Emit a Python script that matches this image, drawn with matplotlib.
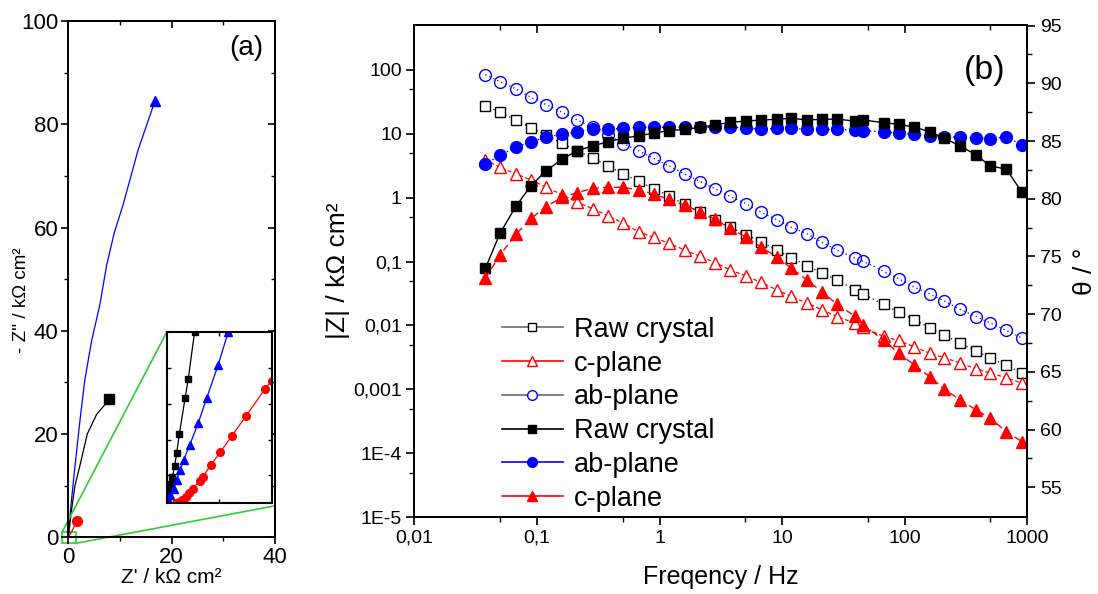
import matplotlib
matplotlib.use("Agg")
import matplotlib.pyplot as plt
from matplotlib.lines import Line2D
from matplotlib.patches import Rectangle
from matplotlib.ticker import FixedLocator, NullFormatter

plt.rcParams['font.family'] = ['Liberation Sans', 'DejaVu Sans']

# ---------------- Panel (a): Nyquist ----------------
nyq_raw_x = [0, 0.64, 1.28, 2.25, 3.67, 5.47, 7.93]
nyq_raw_y = [0, 5.4, 10.0, 13.9, 20.0, 23.8, 26.7]
nyq_ab_x = [0, 0.4, 1.1, 2.3, 3.2, 4.5, 6.1, 7.4, 8.9, 10.6, 13.5, 16.8]
nyq_ab_y = [0, 5.0, 12.0, 23.0, 30.5, 38.0, 45.0, 52.6, 59.0, 64.4, 75.0, 84.6]
nyq_c_x = [0, 0.6, 1.2, 1.74]
nyq_c_y = [0, 1.0, 2.2, 3.2]

# inset (zoom of the origin region)
ins_raw_x = [0, 0.013, 0.03, 0.05, 0.076, 0.11, 0.15, 0.19, 0.24, 0.35, 0.41, 0.53]
ins_raw_y = [0, 0.10, 0.22, 0.36, 0.54, 0.73, 1.03, 1.39, 1.93, 2.94, 3.48, 4.8]
ins_ab_x = [0, 0.03, 0.06, 0.13, 0.19, 0.25, 0.32, 0.44, 0.60, 0.76, 0.98, 1.17]
ins_ab_y = [0, 0.08, 0.22, 0.40, 0.64, 0.92, 1.20, 1.63, 2.24, 2.94, 3.88, 4.8]
ins_c_x = [0.18, 0.24, 0.30, 0.37, 0.43, 0.50, 0.63, 0.69, 0.84, 1.02, 1.24, 1.51, 1.87, 2.0]
ins_c_y = [0.0, 0.03, 0.09, 0.17, 0.28, 0.39, 0.62, 0.73, 1.06, 1.42, 1.88, 2.44, 3.20, 3.44]

# ---------------- Panel (b): Bode ----------------
freq = [0.038, 0.050, 0.0676, 0.0896, 0.119, 0.160, 0.212, 0.285, 0.380, 0.504,
        0.676, 0.896, 1.19, 1.60, 2.15, 2.85, 3.78, 5.10, 6.76, 9.05,
        11.9, 16.0, 21.1, 28.0, 39.0, 45.7, 67.3, 89.2, 120, 160,
        211, 284, 383, 499, 674, 906]
z_raw = [27.4, 21.5, 16.4, 12.3, 9.5, 7.05, 5.4, 4.17, 3.16, 2.34,
         1.80, 1.37, 1.07, 0.78, 0.59, 0.44, 0.344, 0.264, 0.200, 0.152,
         0.114, 0.0866, 0.0665, 0.0518, 0.0361, 0.0312, 0.0213, 0.0161, 0.0123, 0.0092,
         0.00698, 0.00529, 0.00397, 0.00313, 0.00237, 0.0018]
z_c = [3.9, 2.98, 2.34, 1.89, 1.45, 1.11, 0.85, 0.67, 0.52, 0.40,
       0.29, 0.24, 0.193, 0.152, 0.12, 0.096, 0.074, 0.059, 0.047, 0.036,
       0.0284, 0.0223, 0.0176, 0.0138, 0.0109, 0.0094, 0.00673, 0.00583, 0.00459, 0.00369,
       0.00313, 0.00258, 0.0021, 0.0018, 0.00152, 0.00125]
z_ab = [83.6, 65, 49.9, 36.9, 28.4, 21.5, 16.4, 12.5, 9.5, 7.0,
        5.4, 4.1, 3.16, 2.34, 1.78, 1.37, 1.04, 0.80, 0.59, 0.45,
        0.344, 0.271, 0.200, 0.152, 0.114, 0.101, 0.0705, 0.054, 0.0397, 0.0312,
        0.024, 0.0178, 0.0138, 0.0109, 0.00835, 0.00634]
th_raw = [73.97, 77.0, 79.37, 81.13, 82.43, 83.41, 84.16, 84.57, 84.94, 85.23,
          85.46, 85.67, 85.9, 86.0, 86.19, 86.39, 86.62, 86.73, 86.82, 86.88,
          86.97, 86.82, 86.88, 86.9, 86.73, 86.82, 86.59, 86.45, 86.19, 85.81,
          85.23, 84.57, 83.79, 82.83, 82.57, 80.55]
th_ab = [82.98, 83.79, 84.45, 84.94, 85.32, 85.6, 85.81, 86.01, 86.0, 86.1,
         86.19, 86.19, 86.19, 86.19, 86.19, 86.19, 86.19, 86.15, 86.0, 86.1,
         86.1, 86.0, 86.0, 86.0, 85.95, 85.9, 85.8, 85.67, 85.58, 85.46,
         85.37, 85.32, 85.29, 85.17, 85.37, 84.65]
th_c = [73.1, 75.12, 76.92, 78.3, 79.31, 80.12, 80.52, 80.9, 80.99, 80.99,
        80.75, 80.41, 79.95, 79.45, 78.87, 78.21, 77.43, 76.65, 75.8, 74.95,
        73.97, 72.95, 71.94, 70.87, 69.84, 69.06, 67.76, 66.6, 65.59, 64.58,
        63.49, 62.56, 61.7, 60.98, 59.82, 58.95]

xtick_vals = [0.01, 0.1, 1, 10, 100, 1000]
xtick_labels = ['0,01', '0,1', '1', '10', '100', '1000']
ytick_vals = [1e-5, 1e-4, 1e-3, 1e-2, 1e-1, 1, 10, 100]
ytick_labels = ['1E-5', '1E-4', '0,001', '0,01', '0,1', '1', '10', '100']
legend_labels = ['Raw crystal', 'c-plane', 'ab-plane', 'Raw crystal', 'ab-plane', 'c-plane']

SP = 1.4
fig = plt.figure(figsize=(10.98, 5.94), dpi=100)

# ======== Panel (a) ========
axa = fig.add_axes([68.3 / 1098, 1 - 537.3 / 594, (275 - 68.3) / 1098, (537.3 - 21) / 594])
axa.set_xlim(0, 40)
axa.set_ylim(0, 100)
for s in axa.spines.values():
    s.set_linewidth(SP)
axa.plot(nyq_ab_x, nyq_ab_y, color='blue', lw=0.9, marker='^', ms=7, markevery=[-1])
axa.plot(nyq_raw_x, nyq_raw_y, color='black', lw=0.9, marker='s', ms=6.5, markevery=[-1])
axa.plot(nyq_c_x, nyq_c_y, color='red', lw=0.9, marker='o', ms=7, markevery=[-1])
axa.set_xticks([0, 20, 40])
axa.set_yticks([0, 20, 40, 60, 80, 100])
axa.xaxis.set_minor_locator(FixedLocator([10, 30]))
axa.yaxis.set_minor_locator(FixedLocator([10, 30, 50, 70, 90]))
axa.tick_params(which='major', direction='out', length=5, width=1.2, labelsize=16, pad=2)
axa.tick_params(which='minor', direction='out', length=3, width=1.0)
for side, sec in (('top', axa.secondary_xaxis('top')), ('right', axa.secondary_yaxis('right'))):
    sec.spines[side].set_linewidth(SP)
    if side == 'top':
        sec.set_xticks([0, 20, 40])
        sec.xaxis.set_minor_locator(FixedLocator([10, 30]))
        sec.tick_params(which='both', direction='in', labeltop=False)
    else:
        sec.set_yticks([0, 20, 40, 60, 80, 100])
        sec.yaxis.set_minor_locator(FixedLocator([10, 30, 50, 70, 90]))
        sec.tick_params(which='both', direction='in', labelright=False)
    sec.tick_params(which='major', length=5, width=1.2)
    sec.tick_params(which='minor', length=3, width=1.0)
axa.set_xlabel("Z' / k\u03a9 cm\u00b2", fontsize=15, labelpad=0)
fig.text(22 / 1098, 1 - 300 / 594, "- Z'' / k\u03a9 cm\u00b2", rotation=90, fontsize=13.5,
         ha='center', va='center')
axa.text(0.945, 0.972, '(a)', transform=axa.transAxes, fontsize=20, ha='right', va='top')

green = '#33cc33'
axa.add_patch(Rectangle((-1.16, -1.16), 2.65, 2.24, fill=False, ec=green, lw=1.2, clip_on=False))
axa.plot([-1.16, 19.03], [1.08, 39.7], color=green, lw=1.2, clip_on=False)
axa.plot([1.49, 40], [-1.16, 6.1], color=green, lw=1.2, clip_on=False)

axi = fig.add_axes([166.7 / 1098, 1 - 502.7 / 594, (271.7 - 166.7) / 1098, (502.7 - 332.3) / 594])
axi.set_xlim(0, 2)
axi.set_ylim(0, 4.8)
for s in axi.spines.values():
    s.set_linewidth(1.5)
axi.plot(ins_raw_x, ins_raw_y, color='black', lw=0.9, marker='s', ms=5)
axi.plot(ins_ab_x, ins_ab_y, color='blue', lw=0.9, marker='^', ms=5.5)
axi.plot(ins_c_x, ins_c_y, color='red', lw=0.9, marker='o', ms=5.5)
axi.set_xticks([1])
axi.set_yticks([0.77, 1.78, 2.78, 3.8])
axi.tick_params(direction='in', length=3, width=1.0, top=True, right=True,
                labelbottom=False, labelleft=False)

# ======== Panel (b) ========
axb = fig.add_axes([414.3 / 1098, 1 - 517.3 / 594, (1027.3 - 414.3) / 1098, (517.3 - 25) / 594])
axb.set_xscale('log')
axb.set_yscale('log')
axb.set_xlim(0.01, 1000)
axb.set_ylim(1e-5, 500)
axb2 = axb.twinx()
axb2.set_ylim(52.4, 95.05)

mso = 8.5
axb.plot(freq, z_raw, ls=(0, (1, 2.5)), color='black', lw=0.9, marker='s', ms=7,
         mfc='white', mec='black', mew=1.0)
axb.plot(freq, z_ab, ls=(0, (1, 2.5)), color='blue', lw=0.9, marker='o', ms=mso,
         mfc='none', mec='blue', mew=1.0)
axb.plot(freq, z_c, ls=(0, (3, 2)), color='red', lw=0.9, marker='^', ms=mso,
         mfc='white', mec='red', mew=1.0)
axb2.plot(freq, th_ab, ls=(0, (1, 2)), color='blue', lw=1.0, marker='o', ms=mso,
          mfc='blue', mec='blue')
axb2.plot(freq, th_raw, ls='-', color='black', lw=1.0, marker='s', ms=7.5,
          mfc='black', mec='black')
axb2.plot(freq, th_c, ls=(0, (5, 3)), color='red', lw=1.0, marker='^', ms=mso,
          mfc='red', mec='red')

for s in list(axb.spines.values()) + list(axb2.spines.values()):
    s.set_linewidth(SP)

axb.xaxis.set_major_locator(FixedLocator(xtick_vals))
axb.set_xticklabels(xtick_labels)
axb.xaxis.set_minor_locator(FixedLocator([0.05, 0.5, 5, 50, 500]))
axb.xaxis.set_minor_formatter(NullFormatter())
axb.yaxis.set_major_locator(FixedLocator(ytick_vals))
axb.set_yticklabels(ytick_labels)
axb.yaxis.set_minor_locator(FixedLocator([5e-5, 5e-4, 5e-3, 5e-2, 0.5, 5, 50]))
axb.yaxis.set_minor_formatter(NullFormatter())
axb.tick_params(which='major', direction='out', length=6, width=1.2, labelsize=14, pad=3)
axb.tick_params(which='minor', direction='out', length=3.5, width=1.0)
axb.tick_params(axis='y', right=False, which='both')

secx = axb.secondary_xaxis('top')
secx.xaxis.set_major_locator(FixedLocator(xtick_vals))
secx.xaxis.set_minor_locator(FixedLocator([0.05, 0.5, 5, 50, 500]))
secx.xaxis.set_minor_formatter(NullFormatter())
secx.tick_params(which='both', direction='in', labeltop=False)
secx.tick_params(which='major', length=6, width=1.2)
secx.tick_params(which='minor', length=3.5, width=1.0)
secx.spines['top'].set_linewidth(SP)

axb2.set_yticks([55, 60, 65, 70, 75, 80, 85, 90, 95])
axb2.yaxis.set_minor_locator(FixedLocator([57.5, 62.5, 67.5, 72.5, 77.5, 82.5, 87.5, 92.5]))
axb2.tick_params(which='major', direction='out', length=6, width=1.2, labelsize=14, pad=3)
axb2.tick_params(which='minor', direction='out', length=3.5, width=1.0)

axb.set_xlabel('Freqency / Hz', fontsize=18, labelpad=13)
axb.set_ylabel('|Z| / k\u03a9 cm\u00b2', fontsize=19, labelpad=2)
axb2.set_ylabel('\u03b8 / \u00b0', fontsize=19, labelpad=8)
axb2.text(0.965, 0.94, '(b)', transform=axb2.transAxes, fontsize=24.5, ha='right', va='top')

handles = [
    Line2D([], [], color='dimgray', lw=1.2, marker='s', ms=6, mfc='white', mec='black'),
    Line2D([], [], color='red', lw=1.2, marker='^', ms=7, mfc='white', mec='red'),
    Line2D([], [], color='dimgray', lw=1.2, marker='o', ms=7, mfc='white', mec='blue'),
    Line2D([], [], color='black', lw=1.2, marker='s', ms=6, mfc='black', mec='black'),
    Line2D([], [], color='blue', lw=1.2, marker='o', ms=7, mfc='blue', mec='blue'),
    Line2D([], [], color='red', lw=1.2, marker='^', ms=7, mfc='red', mec='red'),
]
axb2.legend(handles, legend_labels, loc='upper left', bbox_to_anchor=(0.143, 0.407),
            frameon=False, fontsize=19.5, handlelength=2.25, handletextpad=0.4,
            labelspacing=0.285, borderpad=0, borderaxespad=0)

fig.savefig('out.png', dpi=100)
